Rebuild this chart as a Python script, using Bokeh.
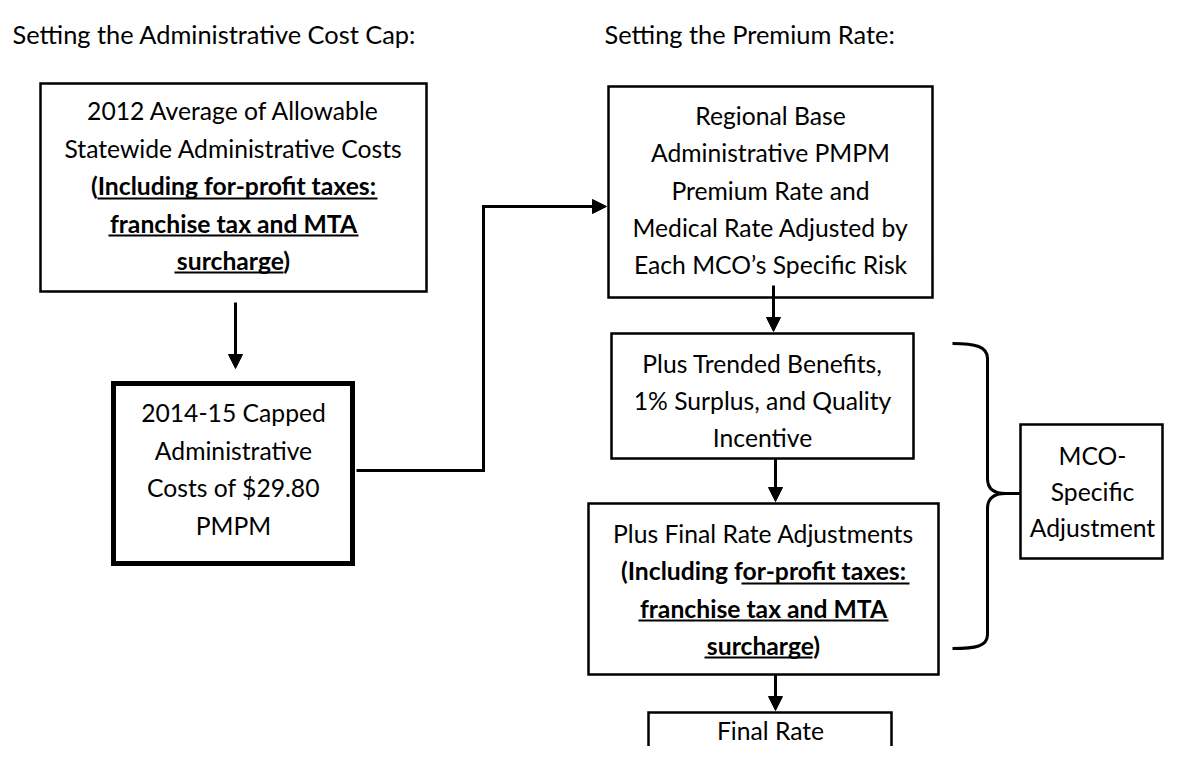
from bokeh.plotting import figure
from bokeh.models import Range1d, Arrow, NormalHead
from bokeh.core.properties import value
from bokeh.embed import file_html
from bokeh.resources import INLINE

FONT = "Lato"

# ---- texts ----
titles = ["Setting the Administrative Cost Cap:", "Setting the Premium Rate:"]

cap_lines = ["2012 Average of Allowable", "Statewide Administrative Costs",
             "(Including for-profit taxes:", "franchise tax and MTA", "surcharge)"]
cap_bold = [False, False, True, True, True]

capped_lines = ["2014-15 Capped", "Administrative", "Costs of $29.80", "PMPM"]

base_lines = ["Regional Base", "Administrative PMPM", "Premium Rate and",
              "Medical Rate Adjusted by", "Each MCO\u2019s Specific Risk"]

trend_lines = ["Plus Trended Benefits,", "1% Surplus, and Quality", "Incentive"]

final_adj_lines = ["Plus Final Rate Adjustments", "(Including for-profit taxes:",
                   "franchise tax and MTA", "surcharge)"]
final_adj_bold = [False, True, True, True]

final_lines = ["Final Rate"]

mco_lines = ["MCO-", "Specific", "Adjustment"]

# ---- layout (screen px) ----
boxes = {
    "cap":    dict(l=40,  r=426, t=83,  b=291, w=2.5),
    "capped": dict(l=113, r=352, t=383, b=563, w=5),
    "base":   dict(l=608, r=932, t=86,  b=297, w=2.5),
    "trend":  dict(l=611, r=913, t=333, b=458, w=2.5),
    "fadj":   dict(l=588, r=938, t=503, b=674, w=2.5),
    "final":  dict(l=648, r=891, t=712, b=800, w=2.5),
    "mco":    dict(l=1020, r=1162, t=424, b=558, w=2.5),
}

p = figure(width=1164, height=746, x_range=Range1d(0, 1164), y_range=Range1d(746, 0),
           output_backend="svg", toolbar_location=None, min_border=0,
           x_axis_location=None, y_axis_location=None)
p.grid.visible = False
p.outline_line_color = None
p.background_fill_color = "white"

for k, b in boxes.items():
    p.quad(left=[b["l"]], right=[b["r"]], top=[b["t"]], bottom=[b["b"]],
           fill_color="white", line_color="black", line_width=b["w"], line_join="miter")

TS = "24.7px"
STEP = 37.5


def draw_lines(lines, cx, y0, bold=None, step=STEP):
    for i, s in enumerate(lines):
        style = "bold" if (bold and bold[i]) else "normal"
        p.text(x=[cx], y=[y0 + i * step], text=[s], text_font=value(FONT),
               text_font_size=TS, text_font_style=style, text_align="center",
               text_baseline="middle", text_color="black")


draw_lines(cap_lines, 233, 110, cap_bold)
draw_lines(capped_lines, 233, 412, step=37.7)
draw_lines(base_lines, 770, 115, step=37.3)
draw_lines(trend_lines, 762, 363, step=37)
draw_lines(final_adj_lines, 763, 533, final_adj_bold, step=37.3)
draw_lines(final_lines, 770, 730)
draw_lines(mco_lines, 1092, 455, step=36)

# underlines
ul_x0 = [97, 108, 174, 741, 638, 704]
ul_x1 = [377, 358, 283, 909, 888, 812]
ul_y = [198, 235, 272, 583, 620, 657]
p.segment(x0=ul_x0, x1=ul_x1, y0=ul_y, y1=ul_y, line_color="black", line_width=2)

# titles
p.text(x=[12, 604], y=[33, 33], text=titles, text_font=value(FONT), text_font_size="25.4px",
       text_align="left", text_baseline="alphabetic", text_color="black")

# arrows


def arrow(x0, y0, x1, y1):
    p.add_layout(Arrow(end=NormalHead(size=14, fill_color="black", line_color="black", line_width=1),
                       x_start=x0, y_start=y0, x_end=x1, y_end=y1,
                       line_width=3, line_color="black"))


arrow(235, 302, 235, 368)
p.line(x=[356, 483, 483, 590], y=[470, 470, 206, 206], line_width=3, line_color="black",
       line_join="miter")
arrow(585, 206, 606, 206)
arrow(773, 285, 773, 331)
arrow(775, 458, 775, 501)
arrow(775, 674, 775, 710)

# brace
p.bezier(x0=[952, 987, 1005, 987], y0=[343, 478, 493, 634],
         x1=[987, 1005, 987, 952], y1=[358, 493, 508, 648],
         cx0=[975, 987, 995, 987], cy0=[343, 490, 493, 646],
         cx1=[987, 995, 987, 975], cy1=[346, 493, 496, 648],
         line_color="black", line_width=3)
p.segment(x0=[987, 987, 1003], y0=[357, 507, 493], x1=[987, 987, 1020], y1=[479, 635, 493],
          line_color="black", line_width=3)

open("out.html", "w").write(file_html(p, INLINE))
